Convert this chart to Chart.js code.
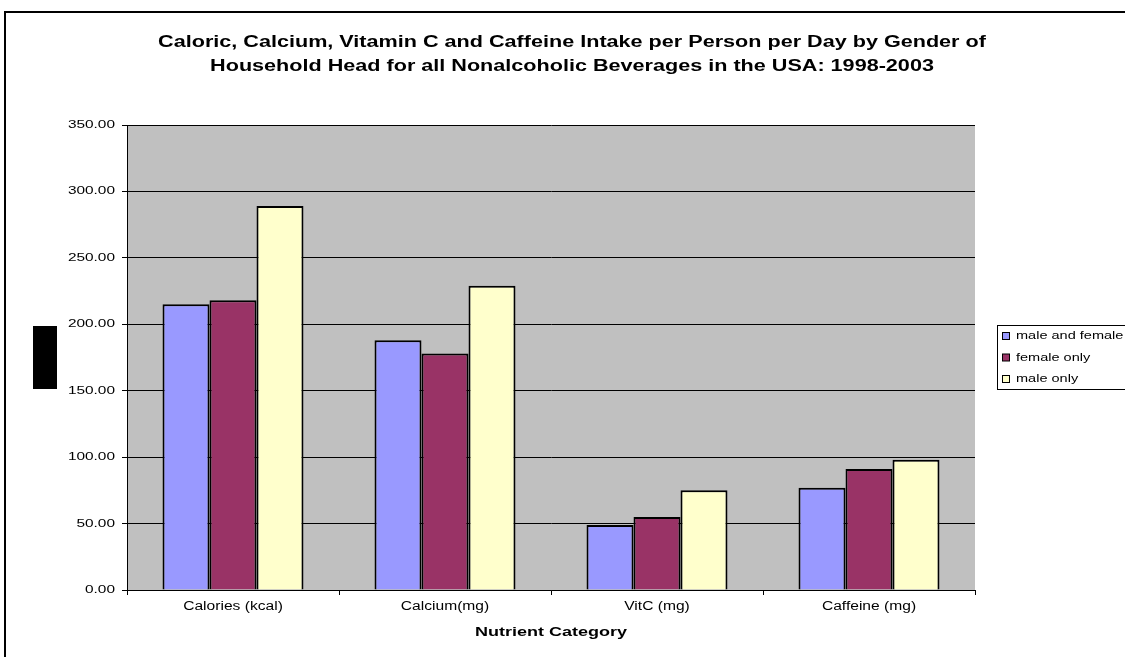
<!DOCTYPE html>
<html>
<head>
<meta charset="utf-8">
<style>
  html, body { margin: 0; padding: 0; background: #fff; }
  #wrap { width: 1125px; height: 657px; position: relative; }
</style>
<script src="https://cdn.jsdelivr.net/npm/chart.js@4.4.1/dist/chart.umd.min.js"></script>
</head>
<body>
<div id="wrap"><canvas id="c" width="1125" height="657"></canvas></div>
<script>
// Nutrient categories on the x axis
const categories = ['Calories (kcal)', 'Calcium(mg)', 'VitC (mg)', 'Caffeine (mg)'];

// Intake per person per day, by gender of household head
const maleAndFemale = [215, 188, 49, 77];
const femaleOnly    = [218, 178, 55, 91];
const maleOnly      = [289, 229, 75, 98];

const seriesNames = ['male and female', 'female only', 'male only'];
const seriesColors = ['#9999FF', '#993366', '#FFFFCC'];

// Value axis range
const yMin = 0, yMax = 350, yStep = 50;

const titleLines = [
  'Caloric, Calcium, Vitamin C and Caffeine Intake per Person per Day by Gender of',
  'Household Head for all Nonalcoholic Beverages in the USA: 1998-2003'
];
const xAxisTitle = 'Nutrient Category';

const FONT = 'Arial, "Liberation Sans", Helvetica, sans-serif';

// Draws text widened horizontally around its anchor point
function wideText(ctx, text, x, y, sx, font, align, baseline) {
  ctx.save();
  ctx.font = font;
  ctx.fillStyle = '#000';
  ctx.textAlign = align;
  ctx.textBaseline = baseline;
  ctx.translate(x, y);
  ctx.scale(sx, 1);
  ctx.fillText(text, 0, 0);
  ctx.restore();
}

// Grey plot background, outer frame and y-axis title block
const decor = {
  id: 'decor',
  beforeDraw(chart) {
    const { ctx, chartArea: a } = chart;
    ctx.save();
    ctx.fillStyle = '#C0C0C0';
    ctx.fillRect(a.left, a.top, a.right - a.left, a.bottom - a.top);
    ctx.restore();
  },
  afterDraw(chart) {
    const ctx = chart.ctx;
    ctx.save();
    ctx.strokeStyle = '#000';
    ctx.lineWidth = 2;
    ctx.strokeRect(5, 12, 1300, 800);
    ctx.fillStyle = '#000';
    ctx.fillRect(33, 326, 24, 63);
    ctx.restore();
  }
};

// Title, tick labels and axis title in the widened lettering
const labels = {
  id: 'labels',
  afterDraw(chart) {
    const ctx = chart.ctx;
    const a = chart.chartArea;
    const xs = chart.scales.x, ys = chart.scales.y;

    titleLines.forEach((line, i) => {
      wideText(ctx, line, 572, 43 + i * 24, 1.35, 'bold 16px ' + FONT, 'center', 'middle');
    });

    ys.ticks.forEach(t => {
      const y = ys.getPixelForValue(t.value);
      wideText(ctx, Number(t.value).toFixed(2), a.left - 12, y, 1.4, '11px ' + FONT, 'right', 'middle');
    });

    categories.forEach((c, i) => {
      const x = xs.getPixelForValue(i);
      wideText(ctx, c, x, a.bottom + 17, 1.3, '12px ' + FONT, 'center', 'middle');
    });

    wideText(ctx, xAxisTitle, (a.left + a.right) / 2, a.bottom + 43, 1.5, 'bold 12px ' + FONT, 'center', 'middle');
  }
};

// Boxed legend at the right of the plot
const boxLegend = {
  id: 'boxLegend',
  afterDraw(chart) {
    const ctx = chart.ctx;
    const x0 = 997, y0 = 325, w = 140, h = 64;
    ctx.save();
    ctx.fillStyle = '#fff';
    ctx.fillRect(x0, y0, w, h);
    ctx.strokeStyle = '#000';
    ctx.lineWidth = 1;
    ctx.strokeRect(x0 + 0.5, y0 + 0.5, w, h);
    chart.data.datasets.forEach((ds, i) => {
      const cy = y0 + 11 + i * 21.5;
      ctx.fillStyle = ds.backgroundColor;
      ctx.fillRect(x0 + 5.5, cy - 3.5, 7, 7);
      ctx.strokeStyle = '#000';
      ctx.strokeRect(x0 + 5.5, cy - 3.5, 7, 7);
      wideText(ctx, ds.label, x0 + 19, cy, 1.32, '11px ' + FONT, 'left', 'middle');
    });
    ctx.restore();
  }
};

const seriesValues = [maleAndFemale, femaleOnly, maleOnly];

new Chart(document.getElementById('c'), {
  type: 'bar',
  data: {
    labels: categories,
    datasets: seriesValues.map((vals, i) => ({
      label: seriesNames[i],
      data: vals,
      backgroundColor: seriesColors[i],
      borderColor: '#000',
      borderWidth: 2,
      categoryPercentage: 0.665,
      barPercentage: 1.0
    }))
  },
  options: {
    responsive: false,
    animation: false,
    devicePixelRatio: 1,
    layout: { padding: { left: 10, right: 150, top: 125, bottom: 0 } },
    plugins: {
      legend: { display: false },
      tooltip: { enabled: false },
      title: { display: false }
    },
    scales: {
      x: {
        grid: { display: true, drawOnChartArea: false, drawTicks: true, tickLength: 5, offset: true, color: '#000' },
        border: { display: true, color: '#000', width: 1 },
        ticks: { display: false },
        afterFit(scale) { scale.height = 67; }
      },
      y: {
        min: yMin,
        max: yMax,
        grid: { color: '#000', lineWidth: 1, tickLength: 5, drawTicks: true },
        border: { display: true, color: '#000', width: 1 },
        ticks: { stepSize: yStep, display: false },
        afterFit(scale) { scale.width = 117; }
      }
    }
  },
  plugins: [decor, labels, boxLegend]
});
</script>
</body>
</html>
